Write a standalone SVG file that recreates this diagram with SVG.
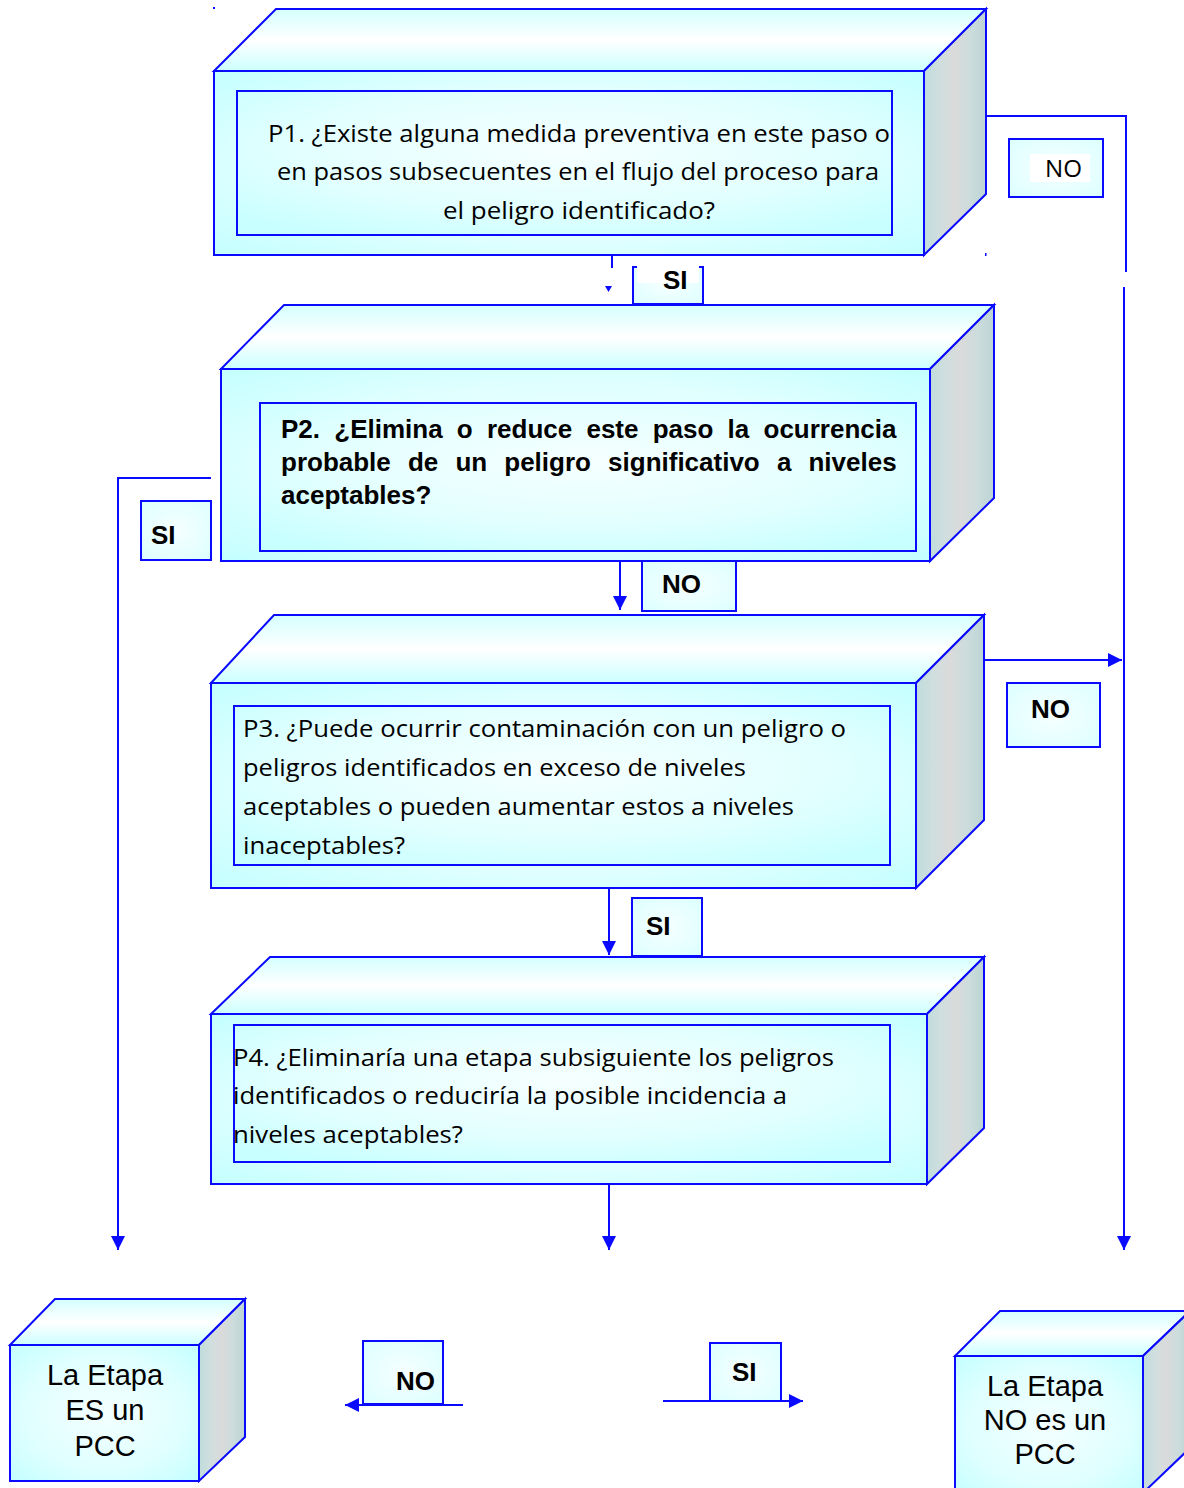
<svg xmlns="http://www.w3.org/2000/svg" width="1184" height="1488" viewBox="0 0 1184 1488">
<style>
.edge{stroke:#0a0aff;stroke-width:2;fill:none}
.top{fill:url(#topG);stroke:#0a0aff;stroke-width:2}
.side{fill:url(#sideG);stroke:#0a0aff;stroke-width:2}
.front{fill:url(#frontG);stroke:#0a0aff;stroke-width:2}
.inner{fill:url(#innerG);stroke:#0a0aff;stroke-width:2}
.lbl{fill:url(#lblG);stroke:#0a0aff;stroke-width:2}
.q{font-family:"Open Sans","Noto Sans",sans-serif;font-size:24px;fill:#000}
.b{font-family:"Liberation Sans",Arial,sans-serif;font-weight:bold;font-size:26px;fill:#000}
.r{font-family:"Liberation Sans",Arial,sans-serif;font-size:29px;fill:#000;text-anchor:middle}
</style>
<defs>
<linearGradient id="topG" x1="0" y1="0" x2="0" y2="1">
<stop offset="0" stop-color="#d4ffff"/><stop offset="0.5" stop-color="#ffffff"/><stop offset="1" stop-color="#ccffff"/>
</linearGradient>
<linearGradient id="sideG" x1="0" y1="0" x2="1" y2="0">
<stop offset="0" stop-color="#c0dcdc"/><stop offset="0.25" stop-color="#d0dede"/><stop offset="0.5" stop-color="#dadada"/><stop offset="0.75" stop-color="#ccdcdc"/><stop offset="1" stop-color="#bcd4d4"/>
</linearGradient>
<radialGradient id="frontG" cx="0.5" cy="0.5" r="0.7">
<stop offset="0" stop-color="#f4ffff"/><stop offset="0.6" stop-color="#e0ffff"/><stop offset="1" stop-color="#c4ffff"/>
</radialGradient>
<radialGradient id="innerG" cx="0.5" cy="0.4" r="0.7">
<stop offset="0" stop-color="#f6ffff"/><stop offset="0.6" stop-color="#e2ffff"/><stop offset="1" stop-color="#c8ffff"/>
</radialGradient>
<radialGradient id="lblG" cx="0.5" cy="0.5" r="0.7">
<stop offset="0" stop-color="#f6ffff"/><stop offset="1" stop-color="#dcffff"/>
</radialGradient>
<marker id="arr" markerUnits="userSpaceOnUse" markerWidth="15" markerHeight="14" refX="14" refY="7" orient="auto">
<path d="M0,0 L14,7 L0,14 z" fill="#0a0aff"/>
</marker>
</defs>

<g id="connectors">
<polyline class="edge" points="986,116 1126,116 1126,272"/>
<line class="edge" x1="1124" y1="287" x2="1124" y2="1250" marker-end="url(#arr)"/>
<line class="edge" x1="984" y1="660" x2="1122" y2="660" marker-end="url(#arr)"/>
<polyline class="edge" points="211,478 118,478 118,1250" marker-end="url(#arr)"/>
<line class="edge" x1="612" y1="255" x2="612" y2="268"/>
<polygon points="605,286 612,286 608.5,292" fill="#0a0aff"/>
<line class="edge" x1="620" y1="548" x2="620" y2="610" marker-end="url(#arr)"/>
<line class="edge" x1="609" y1="888" x2="609" y2="955" marker-end="url(#arr)"/>
<line class="edge" x1="609" y1="1184" x2="609" y2="1250" marker-end="url(#arr)"/>
<line class="edge" x1="463" y1="1405" x2="345" y2="1405" marker-end="url(#arr)"/>
<line class="edge" x1="663" y1="1401" x2="803" y2="1401" marker-end="url(#arr)"/>
<rect x="213" y="7" width="2" height="2" fill="#0a0aff"/>
<rect x="985" y="253" width="1.5" height="3" fill="#0a0aff"/>
</g>

<g id="p1">
<polygon class="top" points="214,71 276,9 986,9 924,71"/>
<polygon class="side" points="924,71 986,9 986,194 924,255"/>
<rect class="front" x="214" y="71" width="710" height="184"/>
<rect class="inner" x="237" y="91" width="655" height="144"/>
<text class="q" x="579" y="142" text-anchor="middle" textLength="622" lengthAdjust="spacingAndGlyphs">P1. ¿Existe alguna medida preventiva en este paso o</text>
<text class="q" x="578" y="180" text-anchor="middle" textLength="602" lengthAdjust="spacingAndGlyphs">en pasos subsecuentes en el flujo del proceso para</text>
<text class="q" x="579" y="219" text-anchor="middle" textLength="272" lengthAdjust="spacingAndGlyphs">el peligro identificado?</text>
</g>

<g id="p2">
<polygon class="top" points="221,369 284,305 994,305 930,369"/>
<polygon class="side" points="930,369 994,305 994,498 930,561"/>
<rect class="front" x="221" y="369" width="709" height="192"/>
<rect class="inner" x="260" y="403" width="656" height="148"/>
<text class="b" x="281" y="438" word-spacing="7">P2. ¿Elimina o reduce este paso la ocurrencia</text>
<text class="b" x="281" y="471" word-spacing="9.9">probable de un peligro significativo a niveles</text>
<text class="b" x="281" y="504">aceptables?</text>
</g>

<g id="p3">
<polygon class="top" points="211,683 274,615 984,615 916,683"/>
<polygon class="side" points="916,683 984,615 984,820 916,888"/>
<rect class="front" x="211" y="683" width="705" height="205"/>
<rect class="inner" x="234" y="706" width="656" height="159"/>
<text class="q" x="243" y="737" textLength="603" lengthAdjust="spacingAndGlyphs">P3. ¿Puede ocurrir contaminación con un peligro o</text>
<text class="q" x="243" y="776" textLength="503" lengthAdjust="spacingAndGlyphs">peligros identificados en exceso de niveles</text>
<text class="q" x="243" y="815" textLength="551" lengthAdjust="spacingAndGlyphs">aceptables o pueden aumentar estos a niveles</text>
<text class="q" x="243" y="854" textLength="162" lengthAdjust="spacingAndGlyphs">inaceptables?</text>
</g>

<g id="p4">
<polygon class="top" points="211,1014 270,957 984,957 927,1014"/>
<polygon class="side" points="927,1014 984,957 984,1128 927,1184"/>
<rect class="front" x="211" y="1014" width="716" height="170"/>
<rect class="inner" x="234" y="1025" width="656" height="137"/>
<text class="q" x="233" y="1066" textLength="601" lengthAdjust="spacingAndGlyphs">P4. ¿Eliminaría una etapa subsiguiente los peligros</text>
<text class="q" x="233" y="1104" textLength="554" lengthAdjust="spacingAndGlyphs">identificados o reduciría la posible incidencia a</text>
<text class="q" x="233" y="1143" textLength="230" lengthAdjust="spacingAndGlyphs">niveles aceptables?</text>
</g>

<g id="es-pcc">
<polygon class="top" points="10,1345 55,1299 245,1299 199,1345"/>
<polygon class="side" points="199,1345 245,1299 245,1437 199,1481"/>
<rect class="front" x="10" y="1345" width="189" height="136"/>
<text class="r" x="105" y="1385">La Etapa</text>
<text class="r" x="105" y="1420">ES un</text>
<text class="r" x="105" y="1456">PCC</text>
</g>

<g id="no-pcc">
<polygon class="top" points="955,1356 1000,1311 1190,1311 1143,1356"/>
<polygon class="side" points="1143,1356 1190,1311 1190,1448 1143,1493"/>
<rect class="front" x="955" y="1356" width="188" height="140"/>
<text class="r" x="1045" y="1396">La Etapa</text>
<text class="r" x="1045" y="1430">NO es un</text>
<text class="r" x="1045" y="1464">PCC</text>
</g>

<g id="lbl-no1">
<rect class="lbl" x="1009" y="139" width="94" height="58"/>
<rect x="1030" y="154" width="60" height="28" fill="#ffffff"/>
<text x="1045" y="177" font-family="Open Sans, Noto Sans, sans-serif" font-size="24" textLength="37" lengthAdjust="spacingAndGlyphs">NO</text>
</g>
<g id="lbl-si1">
<rect class="lbl" x="633" y="267" width="70" height="37"/>
<rect x="637" y="265" width="62" height="18" fill="#ffffff"/>
<text class="b" x="663" y="289">SI</text>
</g>
<g id="lbl-si2">
<rect class="lbl" x="141" y="501" width="70" height="59"/>
<text class="b" x="151" y="544">SI</text>
</g>
<g id="lbl-no2">
<rect class="lbl" x="642" y="561" width="94" height="50"/>
<text class="b" x="662" y="593">NO</text>
</g>
<g id="lbl-no3">
<rect class="lbl" x="1007" y="683" width="93" height="64"/>
<text class="b" x="1031" y="718">NO</text>
</g>
<g id="lbl-si3">
<rect class="lbl" x="632" y="898" width="70" height="58"/>
<text class="b" x="646" y="935">SI</text>
</g>
<g id="lbl-no4">
<rect class="lbl" x="363" y="1341" width="80" height="63"/>
<text class="b" x="396" y="1390">NO</text>
</g>
<g id="lbl-si4">
<rect class="lbl" x="710" y="1343" width="71" height="58"/>
<text class="b" x="732" y="1381">SI</text>
</g>
</svg>
